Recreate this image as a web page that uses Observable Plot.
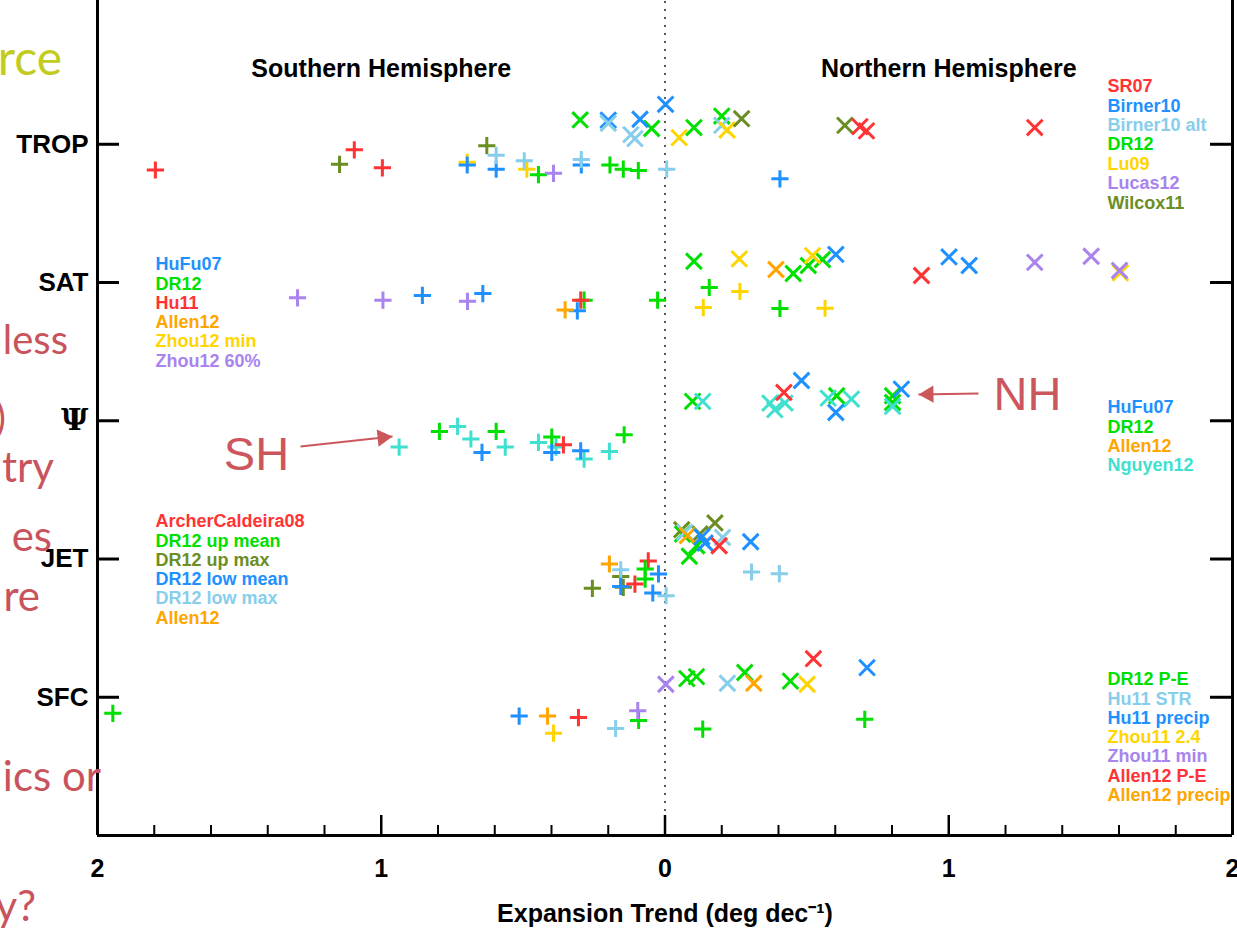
<!DOCTYPE html>
<html><head><meta charset="utf-8">
<script src="https://cdn.jsdelivr.net/npm/d3@7"></script>
<script src="https://cdn.jsdelivr.net/npm/@observablehq/plot@0.6"></script>
<style>
body{margin:0;background:#fff;}
#wrap{position:relative;width:1237px;height:930px;overflow:hidden;background:#fff;}
#wrap svg{position:absolute;left:0;top:0;}
</style></head><body><div id="wrap"></div>
<script>
// ---------- data ----------
const categories = ["TROP", "SAT", "Ψ", "JET", "SFC"];
const categoryPos = [5, 4, 3, 2, 1];
const xTicks = [-2, -1, 0, 1, 2];
const xMinorTicks = [-1.8,-1.6,-1.4,-1.2,-0.8,-0.6,-0.4,-0.2,0.2,0.4,0.6,0.8,1.2,1.4,1.6,1.8];
const xTitle = "Expansion Trend (deg dec⁻¹)";
const hemiTitles = ["Southern Hemisphere", "Northern Hemisphere"];

const colors = {
  red: "#FF3333", blue: "#1E90FF", lightblue: "#87CEEB", green: "#00E000",
  yellow: "#FFD500", purple: "#A983EE", olive: "#6B8E23", orange: "#FFA500", turq: "#40E0D0"
};

// [colour, hemisphere, trend (deg/dec, SH drawn negative), vertical position]
const tropPoints = [
  ["red","SH",-1.796,4.814],["red","SH",-1.095,4.960],["red","SH",-0.996,4.830],
  ["olive","SH",-1.147,4.855],["olive","SH",-0.628,4.990],
  ["yellow","SH",-0.697,4.870],["yellow","SH",-0.487,4.820],
  ["blue","SH",-0.697,4.850],["blue","SH",-0.595,4.820],["blue","SH",-0.295,4.850],["blue","SH",0.405,4.750],
  ["lightblue","SH",-0.595,4.920],["lightblue","SH",-0.496,4.880],["lightblue","SH",-0.295,4.890],["lightblue","SH",0.006,4.820],
  ["green","SH",-0.446,4.780],["green","SH",-0.194,4.850],["green","SH",-0.147,4.820],["green","SH",-0.094,4.810],
  ["purple","SH",-0.393,4.790],
  ["green","NH",-0.299,5.176],["green","NH",-0.047,5.114],["green","NH",0.102,5.121],["green","NH",0.200,5.204],
  ["blue","NH",-0.200,5.174],["blue","NH",-0.088,5.181],["blue","NH",0.002,5.289],
  ["lightblue","NH",-0.200,5.152],["lightblue","NH",-0.106,5.041],["lightblue","NH",-0.120,5.070],["lightblue","NH",0.200,5.137],
  ["yellow","NH",0.050,5.048],["yellow","NH",0.219,5.103],
  ["olive","NH",0.270,5.185],["olive","NH",0.634,5.137],
  ["red","NH",0.687,5.128],["red","NH",0.710,5.097],["red","NH",1.303,5.121]
];
const satPoints = [
  ["purple","SH",-1.295,3.889],["purple","SH",-0.994,3.872],["purple","SH",-0.696,3.864],
  ["blue","SH",-0.855,3.907],["blue","SH",-0.642,3.920],["blue","SH",-0.309,3.795],
  ["orange","SH",-0.352,3.802],
  ["green","SH",-0.285,3.872],["green","SH",-0.026,3.872],["green","SH",0.156,3.964],["green","SH",0.405,3.812],
  ["red","SH",-0.297,3.872],
  ["yellow","SH",0.135,3.819],["yellow","SH",0.264,3.935],["yellow","SH",0.564,3.814],
  ["green","NH",0.102,4.154],["green","NH",0.452,4.065],["green","NH",0.505,4.123],["green","NH",0.555,4.166],
  ["yellow","NH",0.262,4.171],["yellow","NH",0.520,4.195],["yellow","NH",1.605,4.070],
  ["orange","NH",0.391,4.094],
  ["blue","NH",0.602,4.203],["blue","NH",1.001,4.185],["blue","NH",1.072,4.123],
  ["red","NH",0.904,4.051],
  ["purple","NH",1.303,4.146],["purple","NH",1.502,4.190],["purple","NH",1.602,4.087]
];
const psiPoints = [
  ["turq","SH",-0.937,2.810],["turq","SH",-0.731,2.959],["turq","SH",-0.684,2.868],["turq","SH",-0.563,2.810],
  ["turq","SH",-0.446,2.843],["turq","SH",-0.384,2.810],["turq","SH",-0.285,2.723],["turq","SH",-0.196,2.778],
  ["green","SH",-0.795,2.923],["green","SH",-0.595,2.923],["green","SH",-0.399,2.882],["green","SH",-0.144,2.899],
  ["red","SH",-0.358,2.826],
  ["blue","SH",-0.645,2.771],["blue","SH",-0.399,2.771],["blue","SH",-0.297,2.783],
  ["green","NH",0.097,3.140],["green","NH",0.605,3.181],["green","NH",0.802,3.181],["green","NH",0.802,3.132],
  ["turq","NH",0.133,3.140],["turq","NH",0.370,3.128],["turq","NH",0.387,3.080],["turq","NH",0.423,3.128],
  ["turq","NH",0.575,3.164],["turq","NH",0.657,3.157],["turq","NH",0.802,3.104],
  ["red","NH",0.419,3.205],
  ["blue","NH",0.481,3.291],["blue","NH",0.602,3.060],["blue","NH",0.833,3.229]
];
const jetPoints = [
  ["olive","SH",-0.256,1.788],["olive","SH",-0.156,1.873],["olive","SH",-0.147,1.795],
  ["orange","SH",-0.196,1.964],
  ["lightblue","SH",-0.156,1.922],["lightblue","SH",0.004,1.735],["lightblue","SH",0.305,1.906],["lightblue","SH",0.403,1.894],
  ["blue","SH",-0.156,1.802],["blue","SH",-0.023,1.892],["blue","SH",-0.043,1.754],
  ["red","SH",-0.106,1.819],["red","SH",-0.059,1.986],
  ["green","SH",-0.070,1.928],["green","SH",-0.070,1.855],
  ["green","NH",0.062,2.181],["green","NH",0.086,2.020],["green","NH",0.112,2.096],
  ["olive","NH",0.059,2.212],["olive","NH",0.123,2.181],["olive","NH",0.176,2.261],
  ["lightblue","NH",0.070,2.193],["lightblue","NH",0.203,2.156],
  ["orange","NH",0.079,2.169],
  ["blue","NH",0.141,2.116],["blue","NH",0.130,2.160],["blue","NH",0.302,2.125],
  ["red","NH",0.191,2.096]
];
const sfcPoints = [
  ["green","SH",-1.946,0.884],["green","SH",-0.093,0.832],["green","SH",0.133,0.770],["green","SH",0.704,0.840],
  ["blue","SH",-0.514,0.864],
  ["orange","SH",-0.414,0.864],
  ["yellow","SH",-0.393,0.740],
  ["red","SH",-0.305,0.853],
  ["lightblue","SH",-0.174,0.774],
  ["purple","SH",-0.096,0.903],
  ["purple","NH",0.003,1.094],
  ["green","NH",0.077,1.135],["green","NH",0.111,1.149],["green","NH",0.281,1.179],["green","NH",0.442,1.117],
  ["lightblue","NH",0.220,1.101],
  ["orange","NH",0.313,1.101],
  ["yellow","NH",0.501,1.094],
  ["red","NH",0.523,1.279],
  ["blue","NH",0.712,1.214]
];

const legendTROP = [["SR07","red"],["Birner10","blue"],["Birner10 alt","lightblue"],["DR12","green"],["Lu09","yellow"],["Lucas12","purple"],["Wilcox11","olive"]];
const legendSAT = [["HuFu07","blue"],["DR12","green"],["Hu11","red"],["Allen12","orange"],["Zhou12 min","yellow"],["Zhou12 60%","purple"]];
const legendPSI = [["HuFu07","blue"],["DR12","green"],["Allen12","orange"],["Nguyen12","turq"]];
const legendJET = [["ArcherCaldeira08","red"],["DR12 up mean","green"],["DR12 up max","olive"],["DR12 low mean","blue"],["DR12 low max","lightblue"],["Allen12","orange"]];
const legendSFC = [["DR12 P-E","green"],["Hu11 STR","lightblue"],["Hu11 precip","blue"],["Zhou11 2.4","yellow"],["Zhou11 min","purple"],["Allen12 P-E","red"],["Allen12 precip","orange"]];

// background slide fragments (cut off at left edge): text, colour, size, right edge, baseline
const fragments = [["rce","#C2CC1E",48,62,75],["less","#C9535C",40,68,354],[")","#C9535C",40,6,432],["try","#C9535C",42,54,482],
  ["es","#C9535C",42,52,551],["re","#C9535C",42,40,611],["ics or","#C9535C",42,101,791],["y?","#C9535C",42,36,921]];

// ---------- layout ----------
const W = 1237, H = 930;
const FL = 97, FR = 1232, FT = 0, FB = 835;
const yTop = 6.04;
const px2x = d3.scaleLinear([FL, FR], [-2, 2]);
const px2y = d3.scaleLinear([FB, FT], [0, yTop]);

const rows = [tropPoints, satPoints, psiPoints, jetPoints, sfcPoints].flat()
  .map(([c, h, x, y]) => ({c: colors[c], h, x, y}));

const legendBlocks = [
  {items: legendTROP, px: 1107, py: 86, step: 19.4},
  {items: legendSAT, px: 155, py: 264, step: 19.3},
  {items: legendPSI, px: 1107, py: 407, step: 19.4},
  {items: legendJET, px: 155, py: 521, step: 19.3},
  {items: legendSFC, px: 1107, py: 679, step: 19.3}
];
const legendRows = legendBlocks.flatMap(b => b.items.map(([label, c], i) => ({
  label, c: colors[c], x: px2x(b.px), y: px2y(b.py + i * b.step)
})));

const font = "'Liberation Sans', Arial, Helvetica, sans-serif";
const annColor = "#CB575D";
const catLabel = d => categories[categoryPos.indexOf(d)];
const isPsi = d => catLabel(d) === "Ψ";

const sharrow = {x1: px2x(300), y1: px2y(446), x2: px2x(392), y2: px2y(436)};
const nharrow = {x1: px2x(978), y1: px2y(393), x2: px2x(918), y2: px2y(394)};

const chart = Plot.plot({
  width: W, height: H,
  marginLeft: FL, marginRight: W - FR, marginTop: FT, marginBottom: H - FB,
  x: {domain: [-2, 2], range: [FL, FR], axis: null},
  y: {domain: [0, yTop], range: [FB, FT], axis: null},
  color: {type: "identity"},
  style: {fontFamily: font, background: "transparent", overflow: "visible"},
  marks: [
    // zero line
    Plot.ruleX([0], {y1: 0, y2: yTop, stroke: "#333", strokeWidth: 1.6, strokeDasharray: "2,6"}),
    // frame
    Plot.ruleX([-2, 2], {y1: 0, y2: yTop, stroke: "black", strokeWidth: 3}),
    Plot.ruleY([0], {x1: -2, x2: 2, stroke: "black", strokeWidth: 3}),
    // inward ticks
    Plot.ruleY(categoryPos, {x1: -2, x2: -2 + 22 / 284, stroke: "black", strokeWidth: 3}),
    Plot.ruleY(categoryPos, {x1: 2 - 22 / 284, x2: 2, stroke: "black", strokeWidth: 3}),
    Plot.ruleX(xTicks, {y1: 0, y2: 20 / 138.25, stroke: "black", strokeWidth: 2.5}),
    Plot.ruleX(xMinorTicks, {y1: 0, y2: 10 / 138.25, stroke: "black", strokeWidth: 2}),
    // tick labels
    Plot.text(xTicks, {x: d => d, frameAnchor: "bottom", dy: 41, text: d => String(Math.abs(d)), fontSize: 25, fontWeight: "bold", fill: "black"}),
    Plot.text(categoryPos.filter(d => !isPsi(d)), {y: d => d, frameAnchor: "left", dx: -9, textAnchor: "end",
      text: catLabel, fontSize: 26, fontWeight: "bold", fill: "black"}),
    Plot.text(categoryPos.filter(isPsi), {y: d => d, frameAnchor: "left", dx: -9, textAnchor: "end",
      text: catLabel, fontSize: 30, fontWeight: "bold", fontFamily: "'DejaVu Serif', 'Liberation Serif', serif", fill: "black"}),
    Plot.text([xTitle], {frameAnchor: "bottom", dy: 86, text: d => d, fontSize: 25, fontWeight: "bold", fill: "black"}),
    Plot.text(hemiTitles, {x: (d, i) => i === 0 ? -1 : 1, y: () => px2y(68), text: d => d, fontSize: 25, fontWeight: "bold", fill: "black"}),
    // data
    Plot.dot(rows.filter(d => d.h === "SH"), {x: "x", y: "y", symbol: "plus", r: 5.6, stroke: "c", strokeWidth: 3}),
    Plot.dot(rows.filter(d => d.h === "NH"), {x: "x", y: "y", symbol: "times", r: 7.2, stroke: "c", strokeWidth: 3}),
    // legends
    Plot.text(legendRows, {x: "x", y: "y", text: "label", fill: "c", textAnchor: "start", fontSize: 18, fontWeight: "bold"}),
    // annotations
    Plot.link([sharrow, nharrow], {x1: "x1", y1: "y1", x2: "x2", y2: "y2", stroke: annColor, strokeWidth: 2.2}),
    Plot.dot([sharrow], {x: "x2", y: "y2", symbol: "triangle", r: 6.4, fill: annColor, rotate: 83.8, dx: -9.9, dy: 1.1}),
    Plot.dot([nharrow], {x: "x2", y: "y2", symbol: "triangle", r: 6.4, fill: annColor, rotate: -91, dx: 10, dy: -0.2}),
    Plot.text([{t: "SH", x: px2x(256), y: px2y(454)}, {t: "NH", x: px2x(1027), y: px2y(394)}],
      {x: "x", y: "y", text: "t", fontSize: 47, fill: annColor})
  ]
});
const wrap = document.getElementById("wrap");
wrap.appendChild(chart);

// slide fragments as real text
const ns = "http://www.w3.org/2000/svg";
const fsvg = document.createElementNS(ns, "svg");
fsvg.setAttribute("width", W); fsvg.setAttribute("height", H);
fsvg.style.pointerEvents = "none";
for (const [t, col, size, right, base] of fragments) {
  const el = document.createElementNS(ns, "text");
  el.setAttribute("x", right); el.setAttribute("y", base);
  el.setAttribute("text-anchor", "end");
  el.setAttribute("fill", col);
  el.setAttribute("font-size", size);
  el.setAttribute("font-family", "Lato, 'Open Sans', 'Noto Sans', sans-serif");
  el.textContent = t;
  fsvg.appendChild(el);
}
wrap.appendChild(fsvg);
</script>
</body></html>
